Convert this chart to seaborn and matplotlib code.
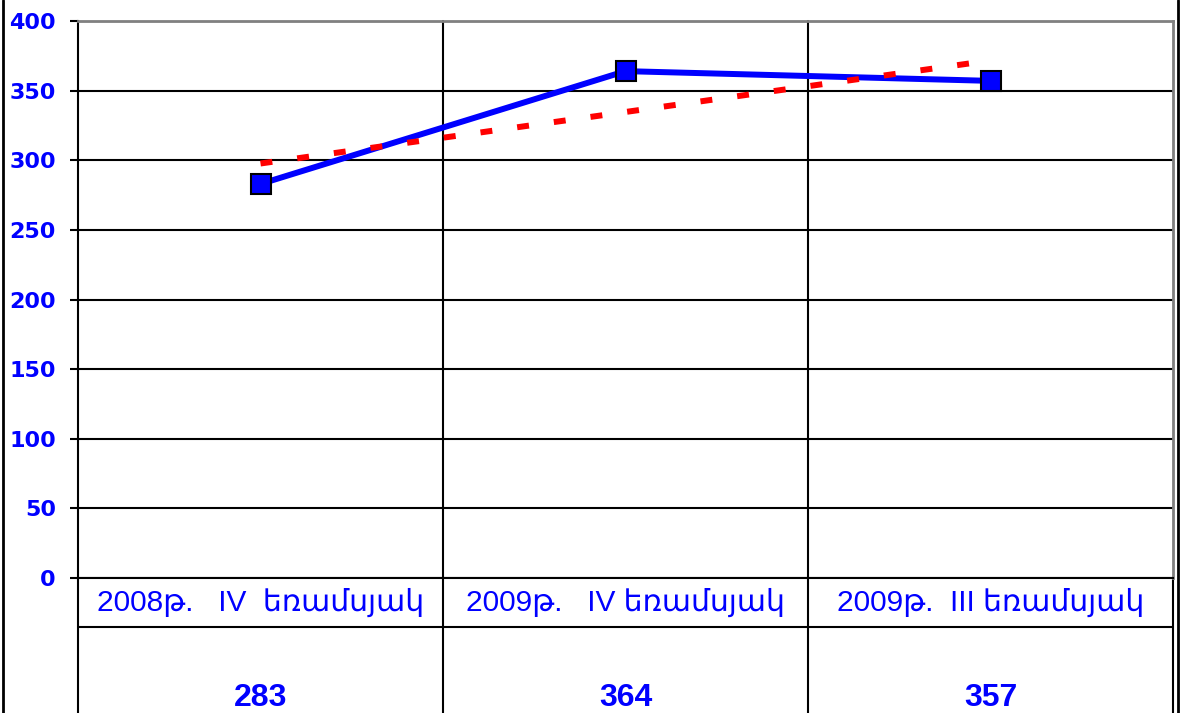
import numpy as np
import pandas as pd
import matplotlib
matplotlib.use("Agg")
import matplotlib.pyplot as plt
import seaborn as sns
from matplotlib.lines import Line2D

# data
periods = ["2008թ.   IV  եռամսյակ", "2009թ.   IV եռամսյակ", "2009թ.  III եռամսյակ"]
values = [283, 364, 357]
y_ticks = [0, 50, 100, 150, 200, 250, 300, 350, 400]

sns.set_theme(style="white")
plt.rcParams['font.family'] = ['Liberation Sans', 'DejaVu Sans']

W, H = 1181, 713
fig = plt.figure(figsize=(W / 100, H / 100), dpi=100)
ax = fig.add_axes([78 / W, (H - 578) / H, (1173 - 78) / W, (578 - 21) / H])

df = pd.DataFrame({'pos': np.arange(len(values)), 'value': values})

# data series
sns.lineplot(data=df, x='pos', y='value', ax=ax, color='blue', linewidth=4.3,
             marker='s', markersize=14, markerfacecolor='blue',
             markeredgecolor='black', markeredgewidth=1.5, zorder=3)
# linear trend line
sns.regplot(data=df, x='pos', y='value', ax=ax, scatter=False, ci=None,
            truncate=True, color='red',
            line_kws={'linewidth': 4.3, 'dashes': (2.0, 4.2), 'zorder': 4})

ax.set_xlim(-0.5, len(values) - 0.5)
ax.set_ylim(0, 400)
ax.set_yticks(y_ticks)
ax.set_yticklabels([str(t) for t in y_ticks], family=['DejaVu Sans'],
                   fontweight='bold', fontsize=16, color='blue')
ax.set_xticks([])
ax.set_xlabel('')
ax.set_ylabel('')
ax.tick_params(axis='y', direction='out', length=6, width=1.5, color='black',
               pad=10, left=True)

ax.yaxis.grid(True, color='black', linewidth=1.5)
ax.set_axisbelow(True)

for side in ['left', 'bottom']:
    ax.spines[side].set_color('black')
    ax.spines[side].set_linewidth(1.5)
for side in ['top', 'right']:
    ax.spines[side].set_color('#808080')
    ax.spines[side].set_linewidth(2)

# category separators through the plot and the data table
trans = ax.get_xaxis_transform()
row_y = -49 / 557
table_bottom = -(H - 578 + 5) / 557
for b in np.arange(len(values) + 1) - 0.5:
    top = 1 if 0 < b < len(values) - 1 else 0
    ax.plot([b, b], [top, table_bottom], transform=trans, color='black',
            linewidth=1.5, clip_on=False)
ax.plot([0, 1], [row_y, row_y], transform=ax.transAxes, color='black',
        linewidth=1.5, clip_on=False)

# data table texts
for i, (lab, v) in enumerate(zip(periods, values)):
    ax.text(i, row_y / 2, lab, transform=trans, ha='center', va='center',
            fontsize=21.5, color='blue')
    ax.text(i, -120 / 557, str(v), transform=trans, ha='center', va='center',
            fontsize=23, fontweight='bold', color='blue')

# outer frame sides
fig.add_artist(Line2D([3 / W, 3 / W], [0, 1], color='black', linewidth=2,
                      transform=fig.transFigure))
fig.add_artist(Line2D([1178 / W, 1178 / W], [0, 1], color='black', linewidth=2,
                      transform=fig.transFigure))

fig.savefig('out.png', dpi=100)
